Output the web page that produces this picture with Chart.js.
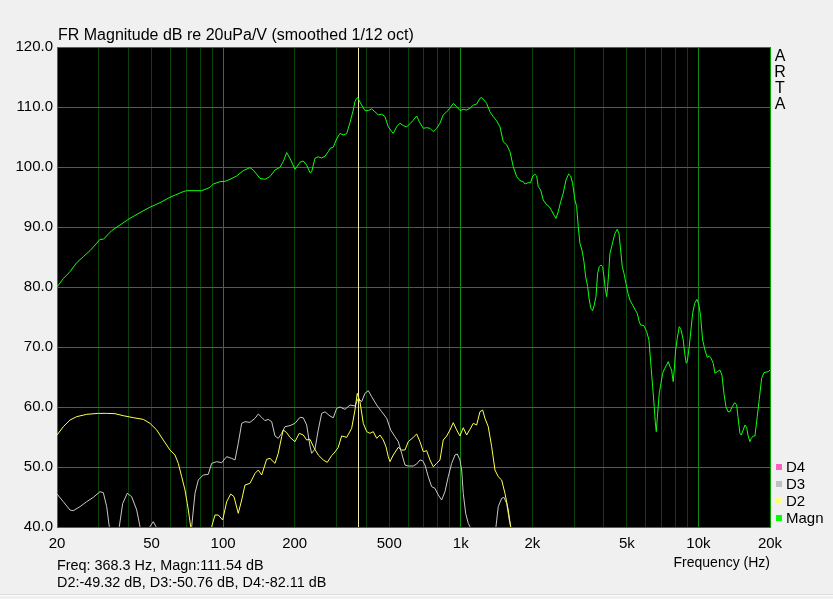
<!DOCTYPE html>
<html>
<head>
<meta charset="utf-8">
<script src="https://cdn.jsdelivr.net/npm/chart.js@4/dist/chart.umd.min.js"></script>
<style>
  html, body { margin: 0; padding: 0; background: #f0f0f0; }
  canvas { display: block; }
</style>
</head>
<body>
<canvas id="frChart" width="833" height="599"></canvas>
<script>
// values (Hz / dB)
const magnFreq = [20,21.26,22.68,24.2,25.8,27.53,29.39,30.34,31.33,33.97,36.82,40.56,44.69,49.23,54.24,59.76,67.98,70.26,81.25,88.04,90.9,97.0,101.8,106.87,114.0,121.6,129.72,133.9,142.91,150.0,157.45,165.3,173.47,179.1,185.1,191.11,200.6,210.55,217.4,224.7,231.97,235.8,243.5,251.4,259.8,268.3,277.0,281.56,290.7,300.5,310.2,320.3,331.0,341.76,352.9,358.7,364.7,368.3,382.8,395.2,408.1,421.7,435.4,449.6,464.6,479.7,495.3,511.9,519.9,537.3,554.73,572.8,592.0,611.16,631.0,652.2,668.8,695.2,718.5,741.82,765.9,791.6,817.28,843.8,872.2,900.42,929.7,960.9,992.01,1024.2,1058.6,1092.9,1128.4,1166.3,1204.1,1224.1,1243.2,1284.9,1326.6,1369.7,1415.6,1461.5,1509,1559.6,1610.2,1662.5,1718.3,1774,1831.6,1862.2,1922.5,1967.7,2006,2051.5,2085.6,2118.1,2167.8,2223.2,2282.2,2356.1,2411.6,2465.9,2514.3,2570.9,2631.3,2698.4,2770,2843.4,2899,2955.4,3022.5,3072.7,3120.6,3172.3,3234.5,3297.6,3352.8,3418.1,3471.6,3528.9,3587.3,3643.5,3704.4,3765.8,3824.7,3887.8,3952.2,4002.6,4054.2,4109.6,4148.9,4189.2,4242.2,4312.6,4380.1,4453,4552.7,4628.9,4705.6,4779.4,4858.4,4953.8,5050.3,5149.2,5285.1,5421.6,5526.6,5635,5711.6,5897.1,6053.8,6190.1,6292.6,6415.1,6515.7,6580.7,6645.7,6734.4,6839.8,6952.7,7067.7,7208.8,7348.1,7462.6,7586.3,7712.2,7786.6,7832.9,7908.7,8017,8142.4,8302,8439.1,8629.6,8750,8887,8970.7,9146.6,9297.6,9451.4,9640.2,9853.8,10048,10214,10413,10649,10888,11101,11253,11540,11733,11996,12314,12555,12800,13052,13307,13567,13874,14203,14478,14660,14947,15135,15433,15690,15950,16151,16467,16675,17002,17285,17674,18020,18443,18859,19646,20000];
const magnDb = [80.0,81.4,82.55,84.05,85.05,86.05,87.3,87.95,87.95,89.4,90.33,91.45,92.4,93.3,94.05,94.95,95.9,96.05,96.05,96.6,97.17,97.55,97.6,97.95,98.5,99.4,99.9,99.5,98.1,97.95,98.4,99.5,99.95,100.9,102.4,101.45,99.6,100.8,101.0,100.3,99.05,99.2,101.45,101.7,101.5,101.8,102.55,103.1,103.3,104.7,105.6,105.35,105.55,107.4,109.5,110.9,111.45,111.54,110.3,109.4,109.4,109.7,109.2,108.7,108.8,108.4,106.7,105.9,105.6,106.7,107.3,106.9,106.7,107.2,107.8,108.5,107.55,106.45,106.55,106.45,105.9,106.45,107.3,108.7,109.2,109.8,110.6,110.05,109.4,109.6,109.5,109.8,110.3,110.5,111.45,111.6,111.3,110.6,109.2,108.4,107.7,106.7,104.2,103.7,102.55,100.05,98.4,97.72,97.56,97.17,97.39,97.39,98.5,98.78,98.5,96.72,96.17,94.5,93.83,93.39,92.72,92.0,91.44,92.56,94.22,95.61,97.83,98.83,98.5,97.28,94.5,93.39,90.06,87.28,86.17,84.22,81.72,80.06,77.83,76.44,76.06,77.0,78.39,82.28,83.39,83.67,83.39,81.72,79.78,78.39,80.06,82.28,85.61,86.72,87.83,88.94,89.61,88.94,86.17,83.39,82.28,80.61,78.94,77.83,77.0,76.17,75.61,74.22,73.67,73.56,72.56,71.17,67.56,63.39,60.06,57.56,55.89,58.94,62.28,63.94,65.61,66.44,67.0,67.56,66.72,66.17,64.78,64.22,66.17,69.5,71.44,73.39,72.94,71.17,68.94,67.28,67.56,70.06,72.83,75.61,77.28,77.94,77.0,75.06,71.17,69.5,68.28,68.5,68.28,67.28,65.61,65.89,66.17,65.33,62.28,60.06,59.22,59.22,60.06,60.72,60.33,58.39,55.61,55.33,56.17,57.0,56.61,55.33,54.22,54.78,55.17,55.17,58.39,61.28,64.78,65.72,65.89,66.17];

const d2Freq = [20,21.26,22.68,24.2,26.67,29.85,32.37,35.08,38.02,41.88,46.14,49.23,52.54,56.0,59.76,62.73,64.77,66.93,69.11,70.67,72.05,73.03,80.7,89.5,92.42,95.42,99.57,103.5,107.6,111.1,115.8,119.7,123.6,129.72,136.2,140.6,145.3,152.5,157.45,165.3,170.6,176.3,179.1,185.1,191.11,200.6,209.1,217.4,224.7,231.97,241.1,251.4,263.9,274.3,286.2,295.6,305.1,315.3,331.0,347.4,358.7,366.8,376.52,388.8,401.8,414.82,428.3,442.7,457.02,471.9,484.4,495.3,503.51,519.9,545.7,563.9,582.3,601.2,631.0,652.2,673.33,695.2,718.5,741.82,765.9,791.6,817.28,843.8,872.2,900.42,929.7,960.9,992.01,1024.2,1058.6,1092.9,1128.4,1166.3,1204.1,1236,1263.9,1305,1348.6,1392.5,1437.7,1485.8,1534.1,1584,1621.1,1690];
const d2Db = [55.33,56.72,57.83,58.39,58.78,58.94,58.94,58.89,58.55,58.22,57.94,57.28,56.17,54.5,52.83,52.0,50.61,48.39,46.17,43.94,41.72,40.05,25,40.05,42.0,42.0,41.17,44.22,45.5,45.05,42.28,44.5,47.0,47.28,48.94,49.5,48.67,51.28,51.44,50.61,52.28,55.05,56.17,55.72,54.94,54.22,55.61,55.33,54.5,54.61,53.2,52.0,51.17,50.78,51.9,52.5,53.28,55.17,54.94,56.44,59.5,62.28,60.89,57.28,55.89,55.61,55.89,54.78,55.33,54.5,53.39,51.72,50.89,52.0,53.28,52.83,52.83,54.22,54.94,55.5,54.22,52.55,52.72,51.17,50.05,50.61,51.17,54.5,55.17,56.17,57.39,56.17,55.17,56.55,55.33,56.28,57.28,57.0,59.22,59.5,58.11,56.72,53.39,49.5,48.39,47.83,45.61,42.83,40.05,30];

const d3Freq = [20,21.26,22.68,23.42,24.99,26.67,28.42,30.34,31.33,32.37,33.19,34.84,36.57,37.8,39.51,41.23,43.29,44.69,46.91,49.23,50.83,52.18,62.12,73.74,76.15,78.62,82.52,86.6,89.5,93.95,98.61,103.5,108.6,112.2,115.8,119.7,123.6,129.72,136.2,140.6,145.3,150.0,154.9,160.1,165.3,170.6,176.3,182.1,191.11,200.6,210.55,217.4,224.7,231.97,235.8,243.5,251.4,259.8,268.3,281.56,290.7,300.5,310.2,325.6,341.76,358.7,370.4,382.8,395.2,408.1,421.7,442.7,464.6,487.7,506.9,528.5,545.7,563.9,582.3,601.2,631.0,652.2,673.33,691.2,706.8,729.7,754.1,778.7,804,830.8,857.9,885.7,915.4,945.2,966.4,992.01,1008.5,1024.2,1048.3,1075.1,1092.9,1239.6,1406,1437.7,1485.8,1519.2,1559.6,1599.3,1621.1,1690];
const d3Db = [45.5,44.22,42.83,42.72,43.39,44.22,44.94,45.89,45.72,43.39,40.05,32,40.05,43.94,45.61,45.05,42.83,40.05,33,40.05,40.89,40.05,28,40.05,45.61,47.83,48.67,48.78,50.61,50.89,50.72,51.72,51.44,51.17,53.94,57.28,57.55,57.44,58.11,58.83,58.28,57.72,57.94,57.55,55.17,54.78,55.61,56.72,56.89,57.28,58.28,58.2,57.0,53.5,52.28,53.0,56.17,58.94,59.2,58.5,58.2,59.78,60.0,59.61,60.33,60.17,61.44,60.89,62.28,62.72,61.72,60.33,59.22,58.11,56.17,55.05,54.22,52.28,50.33,50.17,50.17,50.5,51.17,51.05,50.33,48.39,46.72,46.44,45.33,44.5,45.89,48.39,50.61,52.0,52.17,51.17,49.5,45.61,42.28,40.61,40.05,30,40.05,43.39,44.78,44.94,43.94,41.17,40.05,30];

const xTickValues = [20, 50, 100, 200, 500, 1000, 2000, 5000, 10000, 20000];
const xTickText = ['20', '50', '100', '200', '500', '1k', '2k', '5k', '10k', '20k'];
const yMin = 40, yMax = 120, yStep = 10;

const legendNames = ['D4', 'D3', 'D2', 'Magn'];
const legendColors = ['#ff60c0', '#c0c0c0', '#ffff80', '#00ff00'];

const cursorFreq = 368.3;
const cursorMagn = 111.54;
const cursorRel = [['D2', -49.32], ['D3', -50.76], ['D4', -82.11]];

const FONT = "'Liberation Sans', Arial, sans-serif";

// grid at 1..9 x 10^n inside 20 Hz - 20 kHz, brighter on decades
const gridFreqs = [];
for (let dec = 10; dec <= 10000; dec *= 10) {
  for (let m = 1; m <= 9; m++) {
    const f = m * dec;
    if (f >= 20 && f <= 20000) gridFreqs.push(f);
  }
}

const toXY = (fs, vs) => fs.map((f, i) => ({ x: f, y: vs[i] }));

const artaPlugin = {
  id: 'arta',
  beforeDraw(chart) {
    const { ctx, chartArea: a } = chart;
    ctx.save();
    ctx.fillStyle = '#f0f0f0';
    ctx.fillRect(0, 0, chart.width, chart.height);
    ctx.fillStyle = '#000';
    ctx.fillRect(a.left, a.top, a.right - a.left, a.bottom - a.top);
    ctx.restore();
  },
  beforeDatasetsDraw(chart) {
    const { ctx, chartArea: a } = chart;
    ctx.save();
    ctx.lineWidth = 1;
    ctx.strokeStyle = '#00a000';
    ctx.strokeRect(a.left + 0.5, a.top + 0.5, a.right - a.left, a.bottom - a.top);
    const cx = Math.round(chart.scales.x.getPixelForValue(cursorFreq)) + 0.5;
    ctx.strokeStyle = '#f0f0a8';
    ctx.beginPath();
    ctx.moveTo(cx, a.top + 1);
    ctx.lineTo(cx, a.bottom);
    ctx.stroke();
    ctx.restore();
  },
  afterDraw(chart) {
    const { ctx, chartArea: a } = chart;
    ctx.save();
    ctx.fillStyle = '#000';
    ctx.textBaseline = 'alphabetic';
    ctx.textAlign = 'left';
    ctx.font = '16px ' + FONT;
    ctx.fillText('FR Magnitude dB re 20uPa/V (smoothed 1/12 oct)', a.left + 1, 40);

    // ARTA stacked letters
    ctx.font = '16px ' + FONT;
    ctx.textAlign = 'center';
    'ARTA'.split('').forEach((ch, i) => ctx.fillText(ch, a.right + 10, 61 + i * 16));

    // legend
    ctx.font = '15px ' + FONT;
    ctx.textAlign = 'left';
    legendNames.forEach((name, i) => {
      const y = 467 + i * 17;
      ctx.fillStyle = legendColors[i];
      ctx.fillRect(a.right + 6, y - 3, 6, 6);
      ctx.fillStyle = '#000';
      ctx.fillText(name, a.right + 16, y + 5);
    });

    // cursor readout
    ctx.font = '14.4px ' + FONT;
    ctx.fillText('Freq: ' + cursorFreq + ' Hz, Magn:' + cursorMagn + ' dB', a.left, 570);
    ctx.fillText(cursorRel.map(r => r[0] + ':' + r[1] + ' dB').join(', '), a.left, 587);

    ctx.fillStyle = '#dcdcdc';
    ctx.fillRect(0, 594, chart.width, 1);
    ctx.fillStyle = '#ffffff';
    ctx.fillRect(0, 595, chart.width, 1);
    ctx.restore();
  }
};

new Chart(document.getElementById('frChart'), {
  type: 'line',
  data: {
    datasets: [
      { label: 'Magn', data: toXY(magnFreq, magnDb), borderColor: '#10ff10', borderWidth: 1 },
      { label: 'D2', data: toXY(d2Freq, d2Db), borderColor: '#ffff50', borderWidth: 1 },
      { label: 'D3', data: toXY(d3Freq, d3Db), borderColor: '#c8c8c8', borderWidth: 1 }
    ]
  },
  options: {
    responsive: false,
    animation: false,
    events: [],
    elements: { point: { radius: 0 }, line: { tension: 0 } },
    layout: { padding: { left: 0, right: 63, top: 47, bottom: 0 } },
    plugins: { legend: { display: false }, tooltip: { enabled: false } },
    scales: {
      x: {
        type: 'logarithmic',
        min: 20,
        max: 20000,
        afterBuildTicks: s => { s.ticks = gridFreqs.map(v => ({ value: v })); },
        afterFit: s => { s.height = 72; },
        grid: {
          drawTicks: false,
          color: c => [100, 1000, 10000].includes(c.tick && c.tick.value) ? '#118a11' : '#0a420a'
        },
        border: { display: false },
        ticks: {
          autoSkip: false,
          maxRotation: 0,
          padding: 8,
          color: '#000',
          font: { family: FONT, size: 15 },
          callback: v => {
            const i = xTickValues.indexOf(v);
            return i >= 0 ? xTickText[i] : '';
          }
        },
        title: {
          display: true,
          text: 'Frequency (Hz)',
          align: 'end',
          color: '#000',
          font: { family: FONT, size: 14 },
          padding: { top: 0, bottom: 27 }
        }
      },
      y: {
        min: yMin,
        max: yMax,
        afterFit: s => { s.width = 57; },
        grid: { drawTicks: false, color: '#118a11' },
        border: { display: false },
        ticks: {
          stepSize: yStep,
          padding: 4,
          color: '#000',
          font: { family: FONT, size: 15 },
          callback: v => v.toFixed(1)
        }
      }
    }
  },
  plugins: [artaPlugin]
});
</script>
</body>
</html>
